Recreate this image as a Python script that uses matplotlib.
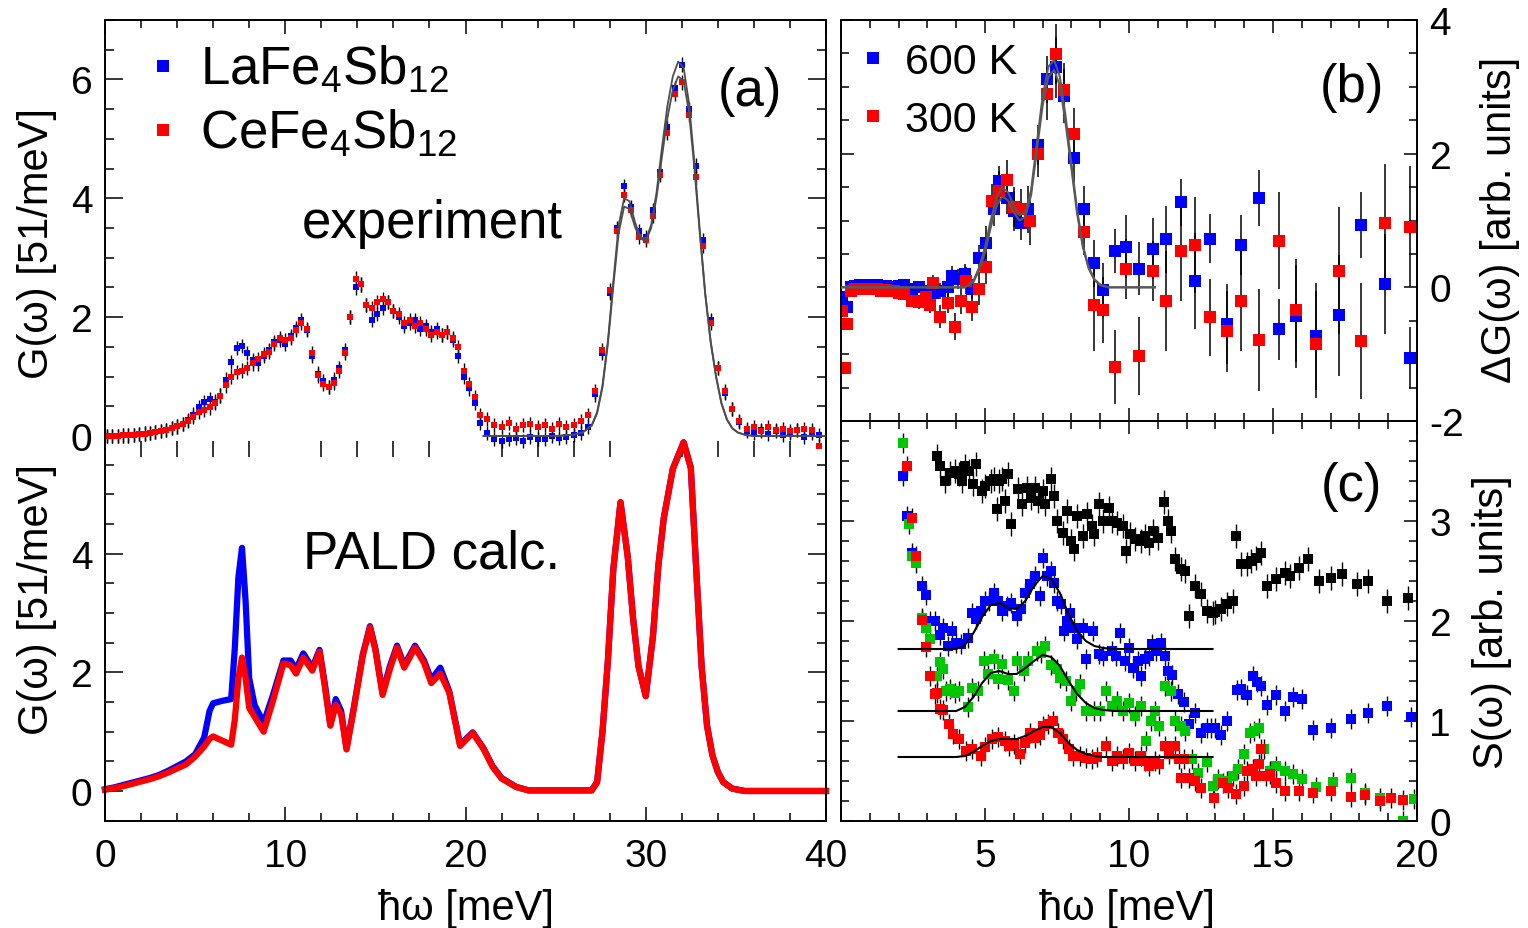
import numpy as np
import matplotlib
matplotlib.use('Agg')
import matplotlib.pyplot as plt
from matplotlib.lines import Line2D
from matplotlib.ticker import MultipleLocator

plt.rcParams['font.family'] = ['Liberation Sans', 'DejaVu Sans']
plt.rcParams['mathtext.fontset'] = 'custom'
plt.rcParams['mathtext.rm'] = 'Liberation Sans'
plt.rcParams['mathtext.default'] = 'regular'
plt.rcParams['axes.unicode_minus'] = False

# ---------------- panel (a): experiment ----------------
ea_lo = np.linspace(0.1, 20.8, 70)
ea_hi = np.linspace(21.2, 39.6, 47)

la_lo = [0.0, 0.0, 0.0, 0.01, 0.01, 0.02, 0.03, 0.04, 0.05, 0.07,
         0.08, 0.10, 0.13, 0.16, 0.20, 0.27, 0.36, 0.48, 0.57, 0.62,
         0.58, 0.68, 0.95, 1.25, 1.48, 1.52, 1.40, 1.28, 1.22, 1.35,
         1.45, 1.58, 1.62, 1.55, 1.68, 1.82, 1.95, 1.78, 1.35, 1.05,
         0.92, 0.82, 0.95, 1.15, 1.45, 2.00, 2.50, 2.55, 2.20, 1.95,
         2.05, 2.15, 2.25, 2.10, 2.00, 1.85, 1.90, 1.95, 1.80, 1.85,
         1.75, 1.80, 1.70, 1.75, 1.62, 1.35, 1.00, 0.80, 0.55, 0.22]
ce_lo = [0.0, 0.0, 0.0, 0.01, 0.01, 0.02, 0.03, 0.04, 0.05, 0.07,
         0.08, 0.10, 0.13, 0.16, 0.20, 0.25, 0.32, 0.40, 0.44, 0.48,
         0.55, 0.68, 0.85, 1.00, 1.08, 1.10, 1.15, 1.22, 1.30, 1.38,
         1.42, 1.55, 1.65, 1.62, 1.65, 1.78, 1.90, 1.80, 1.40, 1.02,
         0.88, 0.82, 0.90, 1.10, 1.40, 2.00, 2.65, 2.55, 2.20, 2.15,
         2.25, 2.30, 2.25, 2.10, 2.05, 1.90, 1.95, 1.85, 1.90, 1.80,
         1.70, 1.75, 1.70, 1.75, 1.65, 1.50, 1.10, 0.88, 0.65, 0.35]
la_hi = [0.05, -0.05, -0.08, -0.05, -0.03, -0.08, -0.02, -0.05, -0.05, 0.0,
         -0.03, -0.02, 0.02, 0.05, 0.15, 0.70, 1.40, 2.40, 3.50, 4.20,
         3.85, 3.45, 3.35, 3.80, 4.45, 5.20, 5.85, 6.25, 5.50, 4.55,
         3.30, 1.95, 1.15, 0.72, 0.45, 0.24, 0.08, 0.05, 0.10, 0.03,
         0.08, 0.02, 0.05, 0.10, -0.02, 0.05, 0.02]
ce_hi = [0.28, 0.18, 0.15, 0.22, 0.12, 0.18, 0.20, 0.15, 0.18, 0.12,
         0.20, 0.15, 0.18, 0.25, 0.35, 0.75, 1.45, 2.45, 3.45, 4.05,
         3.80, 3.35, 3.30, 3.70, 4.40, 5.10, 5.75, 5.95, 5.40, 4.35,
         3.20, 1.90, 1.15, 0.75, 0.45, 0.25, 0.12, 0.15, 0.08, 0.15,
         0.10, 0.12, 0.08, 0.10, 0.12, 0.10, -0.17]
err_a = 0.12

fit_a_E = [21, 22, 23, 24, 25, 26, 26.5, 27, 27.3, 27.6, 27.9, 28.2, 28.5, 28.8,
           29.1, 29.4, 29.7, 30.0, 30.3, 30.6, 30.9, 31.2, 31.5, 31.8, 32.1, 32.4,
           32.7, 33.0, 33.3, 33.6, 33.9, 34.2, 34.5, 34.8, 35.1, 35.5, 36, 37, 38, 39, 40]
fit_a_1 = [0, 0, 0, 0, 0, 0.02, 0.06, 0.18, 0.40, 0.85, 1.60, 2.60, 3.55, 4.00,
           3.95, 3.60, 3.35, 3.30, 3.55, 4.10, 4.85, 5.55, 6.05, 6.30, 6.20, 5.60,
           4.60, 3.45, 2.40, 1.60, 1.00, 0.55, 0.28, 0.13, 0.06, 0.02, 0, 0, 0, 0, 0]
fit_a_2 = [0, 0, 0, 0, 0, 0.02, 0.06, 0.17, 0.38, 0.82, 1.55, 2.52, 3.42, 3.86,
           3.82, 3.52, 3.32, 3.28, 3.50, 4.02, 4.70, 5.35, 5.82, 6.05, 5.98, 5.45,
           4.50, 3.40, 2.38, 1.58, 1.00, 0.55, 0.28, 0.13, 0.06, 0.02, 0, 0, 0, 0, 0]

# ---------------- panel (a): PALD calculation ----------------
calc_E = [0, 0.5, 1, 1.5, 2, 2.5, 3, 3.5, 4, 4.5, 5, 5.5, 5.8, 6.0,
          6.5, 7.0, 7.2, 7.4, 7.6, 7.8, 8.0, 8.3, 8.8, 9.3,
          9.9, 10.3, 10.6, 11.0, 11.5, 11.9, 12.2, 12.5, 12.8, 13.1,
          13.4, 13.8, 14.3, 14.7, 15.0, 15.4, 15.8, 16.2, 16.6, 17.2,
          17.7, 18.1, 18.6, 19.1, 19.7, 20.4, 21.0, 21.5, 22.0, 22.8,
          23.5, 27.0, 27.3, 27.6, 27.9, 28.2, 28.6, 29.0, 29.3, 29.6,
          30.0, 30.4, 30.7, 31.0, 31.5, 32.1, 32.5, 32.8, 33.1, 33.4,
          33.7, 34.0, 34.3, 34.8, 35.5, 40.0]
calc_la = [0.03, 0.06, 0.10, 0.14, 0.18, 0.22, 0.27, 0.34, 0.42, 0.50, 0.62, 0.90, 1.35, 1.48,
           1.52, 1.55, 2.40, 3.60, 4.10, 3.20, 1.90, 1.45, 1.15, 1.60,
           2.20, 2.20, 2.05, 2.32, 2.08, 2.38, 1.80, 1.12, 1.55, 1.35,
           0.72, 1.40, 2.30, 2.78, 2.40, 1.65, 2.10, 2.45, 2.12, 2.45,
           2.20, 1.88, 2.08, 1.68, 0.78, 0.99, 0.72, 0.42, 0.22, 0.07,
           0.01, 0.01, 0.15, 1.00, 2.20, 3.74, 4.87, 3.95, 2.90, 2.10,
           1.60, 2.61, 3.80, 4.60, 5.43, 5.88, 5.45, 3.74, 2.10, 1.10,
           0.60, 0.32, 0.15, 0.04, 0.0, 0.0]
calc_ce = [0.02, 0.05, 0.08, 0.12, 0.16, 0.20, 0.25, 0.31, 0.38, 0.45, 0.58, 0.75, 0.88, 0.92,
           0.85, 0.78, 1.20, 1.90, 2.25, 1.90, 1.40, 1.25, 1.00, 1.50,
           2.15, 2.12, 1.98, 2.25, 2.03, 2.35, 1.75, 1.10, 1.45, 1.30,
           0.70, 1.38, 2.28, 2.76, 2.38, 1.62, 2.05, 2.42, 2.08, 2.42,
           2.16, 1.82, 1.98, 1.66, 0.76, 0.98, 0.71, 0.41, 0.21, 0.07,
           0.01, 0.01, 0.15, 1.00, 2.20, 3.74, 4.87, 3.95, 2.90, 2.10,
           1.60, 2.61, 3.80, 4.60, 5.43, 5.88, 5.45, 3.74, 2.10, 1.10,
           0.60, 0.32, 0.15, 0.04, 0.0, 0.0]

# ---------------- panel (b): E, dG, err ----------------
b600 = np.array([
    [0.03, -0.15, 0.06], [0.12, -0.55, 0.06], [0.22, -0.3, 0.06], [0.35, 0.0, 0.06],
    [0.5, 0.02, 0.06], [0.65, 0.03, 0.06], [0.8, 0.02, 0.06], [0.95, 0.03, 0.06],
    [1.1, 0.02, 0.06], [1.25, 0.03, 0.06], [1.4, 0.02, 0.06], [1.55, 0.02, 0.06],
    [1.7, 0.01, 0.06], [1.85, 0.0, 0.06], [2.0, 0.02, 0.06], [2.2, 0.03, 0.06],
    [2.45, -0.02, 0.06], [2.7, 0.0, 0.08], [2.95, -0.05, 0.08], [3.2, -0.08, 0.12],
    [3.45, -0.05, 0.12], [3.7, 0.0, 0.15], [3.85, 0.17, 0.15], [4.05, 0.12, 0.15],
    [4.3, 0.2, 0.15], [4.55, -0.02, 0.15], [4.8, 0.44, 0.2], [5.05, 0.67, 0.25],
    [5.3, 1.17, 0.25], [5.5, 1.59, 0.22], [5.75, 1.34, 0.25], [6.0, 1.14, 0.3],
    [6.25, 0.96, 0.25], [6.5, 1.17, 0.35], [6.85, 2.13, 0.3], [7.15, 3.11, 0.35],
    [7.45, 3.29, 0.45], [7.75, 2.86, 0.4], [8.1, 1.93, 0.35], [8.45, 1.17, 0.35],
    [8.8, 0.36, 0.35], [9.1, -0.04, 0.4], [9.5, 0.54, 0.33], [9.9, 0.61, 0.47],
    [10.35, 0.28, 0.4], [10.85, 0.58, 0.45], [11.3, 0.72, 0.5], [11.8, 1.27, 0.35],
    [12.3, 0.09, 0.72], [12.8, 0.73, 0.36], [13.4, -0.55, 0.6], [13.9, 0.63, 0.45],
    [14.5, 1.34, 0.42], [15.2, -0.63, 0.45], [15.8, -0.43, 0.77], [16.5, -0.73, 0.8],
    [17.3, -0.42, 0.9], [18.05, 0.93, 0.49], [18.9, 0.05, 0.75], [19.75, -1.05, 0.45]])
b300 = np.array([
    [0.05, -0.35, 0.06], [0.15, -1.2, 0.08], [0.2, -0.55, 0.06], [0.35, -0.05, 0.05],
    [0.5, -0.03, 0.05], [0.65, -0.02, 0.05], [0.8, -0.02, 0.05], [0.95, -0.03, 0.05],
    [1.1, -0.02, 0.05], [1.25, -0.03, 0.05], [1.4, -0.05, 0.05], [1.55, -0.04, 0.05],
    [1.7, -0.05, 0.05], [1.85, -0.06, 0.06], [2.0, -0.08, 0.06], [2.2, -0.1, 0.06],
    [2.45, -0.2, 0.08], [2.7, -0.22, 0.1], [2.95, -0.15, 0.1], [3.1, -0.27, 0.12],
    [3.2, 0.07, 0.12], [3.45, -0.44, 0.17], [3.7, -0.23, 0.15], [3.95, -0.59, 0.2],
    [4.15, -0.2, 0.2], [4.35, 0.1, 0.2], [4.55, -0.3, 0.2], [4.8, -0.02, 0.25],
    [5.05, 0.3, 0.25], [5.25, 1.29, 0.25], [5.5, 1.44, 0.3], [5.75, 1.6, 0.3],
    [6.0, 1.2, 0.3], [6.25, 1.17, 0.3], [6.55, 0.99, 0.35], [6.85, 2.0, 0.35],
    [7.15, 2.9, 0.4], [7.45, 3.49, 0.45], [7.75, 2.96, 0.4], [8.1, 2.29, 0.4],
    [8.45, 0.83, 0.35], [8.8, -0.26, 0.7], [9.1, -0.34, 0.5], [9.5, -1.19, 0.55],
    [9.9, 0.28, 0.45], [10.35, -1.03, 0.58], [10.85, 0.25, 0.45], [11.3, -0.2, 0.75],
    [11.8, 0.55, 0.75], [12.3, 0.63, 0.72], [12.8, -0.45, 0.57], [13.4, -0.66, 0.6],
    [13.9, -0.2, 0.75], [14.5, -0.79, 0.76], [15.2, 0.7, 0.72], [15.8, -0.34, 0.77],
    [16.5, -0.85, 0.8], [17.3, 0.25, 0.95], [18.05, -0.8, 0.87], [18.9, 0.96, 0.88],
    [19.75, 0.91, 0.9]])
fit_b_E = [0, 4.3, 4.6, 4.8, 5.0, 5.2, 5.4, 5.6, 5.8, 6.0, 6.2, 6.4, 6.6, 6.8,
           7.0, 7.2, 7.4, 7.6, 7.8, 8.0, 8.2, 8.4, 8.6, 8.8, 9.0, 9.3, 10.9]
fit_b_1 = [0, 0, 0.1, 0.3, 0.6, 1.0, 1.35, 1.5, 1.42, 1.22, 1.08, 1.12, 1.45, 2.15,
           2.85, 3.3, 3.4, 3.15, 2.55, 1.85, 1.15, 0.62, 0.3, 0.12, 0.04, 0.0, 0.0]
fit_b_2 = [0, 0, 0.08, 0.26, 0.52, 0.9, 1.22, 1.36, 1.3, 1.12, 1.0, 1.05, 1.38, 2.05,
           2.72, 3.15, 3.25, 3.02, 2.45, 1.78, 1.1, 0.6, 0.28, 0.11, 0.03, 0.0, 0.0]

# ---------------- panel (c): E, S ----------------
c_black = np.array([
    [3.33, 3.65], [3.45, 3.55], [3.6, 3.4], [3.8, 3.48], [3.95, 3.5], [4.1, 3.47],
    [4.2, 3.4], [4.3, 3.55], [4.45, 3.5], [4.6, 3.37], [4.7, 3.57], [4.9, 3.3],
    [5.0, 3.35], [5.2, 3.4], [5.3, 3.42], [5.4, 3.12], [5.5, 3.4], [5.6, 3.42],
    [5.7, 3.2], [5.8, 3.47], [5.9, 2.97], [6.15, 3.32], [6.3, 3.17], [6.45, 3.33],
    [6.6, 3.23], [6.75, 3.33], [6.85, 3.2], [7.0, 3.3], [7.1, 3.17], [7.3, 3.42],
    [7.4, 3.25], [7.5, 3.0], [7.7, 2.88], [7.85, 3.1], [8.0, 2.8], [8.1, 2.72],
    [8.2, 3.05], [8.4, 2.85], [8.55, 3.07], [8.7, 2.95], [8.8, 2.87], [8.95, 3.17],
    [9.1, 3.0], [9.3, 3.13], [9.4, 3.0], [9.6, 2.98], [9.8, 2.95], [9.9, 2.7],
    [10.05, 2.87], [10.2, 2.82], [10.4, 2.8], [10.55, 2.85], [10.7, 2.78], [10.85, 2.9],
    [11.0, 2.83], [11.2, 3.19], [11.35, 3.0], [11.45, 2.9], [11.6, 2.62], [11.8, 2.52],
    [11.95, 2.5], [12.1, 2.05], [12.3, 2.35], [12.5, 2.27], [12.7, 2.1], [12.9, 2.08],
    [13.0, 2.09], [13.2, 2.12], [13.4, 2.17], [13.6, 2.2], [13.7, 2.85], [13.9, 2.57],
    [14.1, 2.57], [14.25, 2.6], [14.4, 2.63], [14.6, 2.68], [14.8, 2.35], [15.1, 2.42],
    [15.4, 2.48], [15.6, 2.45], [15.9, 2.53], [16.2, 2.62], [16.6, 2.4], [17.0, 2.43],
    [17.4, 2.47], [17.9, 2.37], [18.3, 2.4], [18.95, 2.2], [19.7, 2.23]])
c_blue = np.array([
    [2.15, 3.45], [2.3, 3.05], [2.45, 2.68], [2.8, 2.35], [2.95, 2.26], [3.1, 2.0],
    [3.25, 2.0], [3.45, 1.86], [3.55, 1.93], [3.7, 1.75], [3.85, 1.9], [4.0, 1.78],
    [4.15, 1.77], [4.4, 1.83], [4.55, 2.08], [4.7, 2.02], [4.85, 2.1], [5.0, 2.2],
    [5.15, 2.2], [5.3, 2.28], [5.45, 2.2], [5.6, 2.1], [5.75, 2.15], [5.9, 2.18],
    [6.1, 2.05], [6.25, 2.12], [6.4, 2.28], [6.55, 2.37], [6.75, 2.45], [6.9, 2.25],
    [7.0, 2.63], [7.15, 2.45], [7.3, 2.5], [7.4, 2.38], [7.5, 2.2], [7.65, 2.17],
    [7.75, 1.9], [7.85, 2.0], [7.95, 2.08], [8.1, 1.93], [8.2, 1.82], [8.4, 1.93],
    [8.5, 1.62], [8.75, 1.9], [8.95, 1.67], [9.1, 1.65], [9.4, 1.7], [9.55, 1.65],
    [9.7, 1.88], [9.85, 1.6], [10.0, 1.73], [10.15, 1.53], [10.3, 1.6], [10.4, 1.45],
    [10.55, 1.62], [10.7, 1.65], [10.8, 1.77], [10.95, 1.7], [11.1, 1.78], [11.25, 1.65],
    [11.35, 1.5], [11.5, 1.46], [11.7, 1.27], [11.9, 1.19], [12.1, 0.97], [12.3, 1.08],
    [12.5, 0.88], [12.7, 0.93], [12.85, 0.93], [13.0, 0.93], [13.2, 0.86], [13.4, 1.0],
    [13.75, 1.31], [13.9, 1.32], [14.1, 1.26], [14.3, 1.45], [14.45, 1.39], [14.6, 1.35],
    [14.8, 1.16], [15.1, 1.26], [15.4, 1.1], [15.7, 1.24], [16.0, 1.22], [16.4, 0.91],
    [17.0, 0.93], [17.7, 1.02], [18.3, 1.08], [18.95, 1.15], [19.8, 1.04]])
c_green = np.array([
    [2.15, 3.78], [2.35, 2.97], [2.45, 2.65], [2.6, 2.58], [2.8, 2.03], [2.95, 1.93],
    [3.1, 1.82], [3.35, 1.45], [3.45, 1.59], [3.55, 1.52], [3.65, 1.3], [3.8, 1.32],
    [3.95, 1.28], [4.1, 1.3], [4.4, 1.14], [4.55, 1.33], [4.75, 1.3], [4.95, 1.6],
    [5.1, 1.47], [5.3, 1.62], [5.45, 1.42], [5.6, 1.57], [5.8, 1.41], [6.0, 1.3],
    [6.1, 1.6], [6.35, 1.5], [6.5, 1.6], [6.8, 1.7], [6.95, 1.68], [7.1, 1.75],
    [7.3, 1.56], [7.5, 1.52], [7.6, 1.43], [7.8, 1.4], [8.0, 1.2], [8.15, 1.3],
    [8.3, 1.37], [8.5, 1.1], [8.8, 1.1], [9.0, 1.1], [9.2, 1.3], [9.4, 1.15],
    [9.6, 1.2], [9.8, 1.1], [10.0, 1.18], [10.2, 1.05], [10.4, 1.15], [10.6, 0.8],
    [10.75, 1.0], [10.9, 1.1], [11.05, 0.95], [11.25, 1.35], [11.45, 1.3], [11.6, 1.0],
    [11.8, 0.95], [11.95, 0.9], [12.2, 0.62], [12.4, 0.48], [12.7, 0.59], [12.9, 0.35],
    [13.1, 0.42], [13.4, 0.4], [13.6, 0.45], [13.8, 0.52], [14.0, 0.67], [14.2, 0.88],
    [14.35, 0.9], [14.5, 0.93], [14.7, 0.72], [14.9, 0.5], [15.1, 0.55], [15.4, 0.5],
    [15.7, 0.47], [16.0, 0.42], [16.5, 0.34], [17.1, 0.39], [17.7, 0.43], [18.2, 0.28],
    [18.7, 0.23], [19.5, 0.0], [19.9, 0.22]])
c_red = np.array([
    [2.3, 3.55], [2.45, 3.03], [2.6, 2.65], [2.8, 2.01], [2.95, 1.74], [3.1, 1.45],
    [3.25, 1.27], [3.35, 1.28], [3.45, 1.12], [3.55, 1.11], [3.75, 0.97], [3.9, 0.87],
    [4.1, 0.82], [4.35, 0.7], [4.55, 0.72], [4.85, 0.65], [5.0, 0.74], [5.25, 0.82],
    [5.45, 0.84], [5.7, 0.8], [5.85, 0.75], [6.0, 0.77], [6.2, 0.67], [6.4, 0.78],
    [6.55, 0.88], [6.75, 0.83], [6.9, 0.86], [7.0, 0.95], [7.2, 0.97], [7.35, 1.0],
    [7.55, 0.88], [7.7, 0.82], [7.9, 0.72], [8.05, 0.65], [8.3, 0.65], [8.5, 0.63],
    [8.7, 0.62], [8.9, 0.64], [9.2, 0.75], [9.4, 0.6], [9.6, 0.65], [9.8, 0.62],
    [10.0, 0.68], [10.2, 0.6], [10.4, 0.65], [10.55, 0.6], [10.7, 0.55], [10.9, 0.6],
    [11.05, 0.57], [11.25, 0.75], [11.4, 0.67], [11.6, 0.75], [11.75, 0.62], [11.8, 0.43],
    [11.9, 0.62], [12.1, 0.43], [12.3, 0.4], [12.5, 0.33], [12.95, 0.23], [13.25, 0.38],
    [13.45, 0.33], [13.7, 0.27], [14.0, 0.35], [14.1, 0.5], [14.3, 0.52], [14.4, 0.45],
    [14.5, 0.57], [14.6, 0.72], [14.75, 0.45], [14.9, 0.47], [15.1, 0.38], [15.4, 0.3],
    [15.9, 0.3], [16.4, 0.28], [17.0, 0.3], [17.7, 0.24], [18.2, 0.26], [18.7, 0.2],
    [19.1, 0.23], [19.5, 0.21]])
err_c = 0.1
err_c_black = 0.12

fit_c_E = [2.0, 4.0, 4.3, 4.6, 4.9, 5.2, 5.5, 5.8, 6.1, 6.4, 6.7,
           7.0, 7.3, 7.6, 7.9, 8.2, 8.5, 8.8, 9.1, 9.5, 12.9]
fit_c_blue = [1.72, 1.72, 1.76, 1.88, 2.04, 2.16, 2.18, 2.13, 2.12, 2.2, 2.35,
              2.45, 2.42, 2.28, 2.07, 1.9, 1.8, 1.75, 1.73, 1.72, 1.72]
fit_c_green = [1.10, 1.10, 1.14, 1.24, 1.38, 1.48, 1.5, 1.47, 1.47, 1.53, 1.6,
               1.66, 1.64, 1.55, 1.4, 1.27, 1.18, 1.13, 1.11, 1.10, 1.10]
fit_c_red = [0.64, 0.64, 0.65, 0.69, 0.75, 0.8, 0.82, 0.82, 0.82, 0.85, 0.9,
             0.94, 0.94, 0.88, 0.78, 0.71, 0.67, 0.65, 0.64, 0.64, 0.64]

BLUE, RED, GREEN = '#0000ff', '#ff0000', '#00c800'

# ---------------- layout ----------------
W, H = 1528, 929
fig = plt.figure(figsize=(W / 100, H / 100), dpi=100)


def box(x0, y0, x1, y1):
    return [x0 / W, 1 - y1 / H, (x1 - x0) / W, (y1 - y0) / H]


axA = fig.add_axes(box(105, 21, 826, 450))
axP = fig.add_axes(box(105, 450, 826, 822))
axB = fig.add_axes(box(841, 21, 1417, 422))
axC = fig.add_axes(box(841, 422, 1417, 822))

for ax in (axA, axP, axB, axC):
    for s in ax.spines.values():
        s.set_linewidth(1.4)
    ax.tick_params(which='both', direction='in', width=1.1,
                   top=True, bottom=True, left=True, right=True, labelsize=28)

# left column
for ax in (axA, axP):
    ax.set_xlim(0, 40)
    ax.xaxis.set_major_locator(MultipleLocator(10))
    ax.xaxis.set_minor_locator(MultipleLocator(2))
    ax.yaxis.set_major_locator(MultipleLocator(2))
    ax.yaxis.set_minor_locator(MultipleLocator(0.5))
    ax.tick_params(axis='y', which='major', length=13, pad=9)
    ax.tick_params(axis='y', which='minor', length=6.5)
    ax.tick_params(axis='x', which='major', length=10, pad=12)
    ax.tick_params(axis='x', which='minor', length=5.5)
    ax.set_ylabel('G(ω) [51/meV]', fontsize=30, va='center')

axA.set_ylim(-0.219, 7.0)
axP.set_ylim(-0.506, 5.767)
axA.spines['bottom'].set_visible(False)
axP.spines['top'].set_visible(False)
axA.tick_params(axis='x', bottom=False, labelbottom=False)
axP.tick_params(axis='x', top=False)
axA.yaxis.set_label_coords(-0.094, 0.4825)
axP.yaxis.set_label_coords(-0.094, 0.597)
axP.set_xlabel('ħω [meV]', fontsize=30)
axP.xaxis.set_label_coords(0.5, -0.18)

axA.errorbar(np.concatenate([ea_lo, ea_hi]), la_lo + la_hi, yerr=err_a, fmt='s',
             color=BLUE, ms=5, mew=0, ecolor='black', elinewidth=1.0, capsize=0)
axA.errorbar(np.concatenate([ea_lo, ea_hi]), ce_lo + ce_hi, yerr=err_a, fmt='s',
             color=RED, ms=5, mew=0, ecolor='black', elinewidth=1.0, capsize=0)
axA.plot(fit_a_E, fit_a_1, color='0.3', lw=1.3, zorder=4)
axA.plot(fit_a_E, fit_a_2, color='0.3', lw=1.3, zorder=4)

axP.plot(calc_E, calc_la, color=BLUE, lw=4.5, clip_on=False)
axP.plot(calc_E, calc_ce, color=RED, lw=4.5, clip_on=False)

leg_a = [Line2D([], [], ls='none', marker='s', ms=8, mew=0, color=BLUE),
         Line2D([], [], ls='none', marker='s', ms=8, mew=0, color=RED)]
axA.legend(leg_a, ['LaFe$_4$Sb$_{12}$', 'CeFe$_4$Sb$_{12}$'], loc='upper left',
           bbox_to_anchor=(0.062, 0.945), frameon=False, fontsize=38,
           handlelength=0.5, handletextpad=0.45, labelspacing=0.24,
           borderpad=0, borderaxespad=0)
axA.text(0.8946, 0.8345, '(a)', transform=axA.transAxes, fontsize=38, ha='center', va='center')
axA.text(0.4535, 0.527, 'experiment', transform=axA.transAxes, fontsize=38, ha='center', va='center')
axP.text(0.4535, 0.718, 'PALD calc.', transform=axP.transAxes, fontsize=38, ha='center', va='center')

# right column
for ax in (axB, axC):
    ax.set_xlim(0, 20)
    ax.xaxis.set_major_locator(MultipleLocator(5))
    ax.xaxis.set_minor_locator(MultipleLocator(1))
    ax.tick_params(which='major', length=9.5)
    ax.tick_params(which='minor', length=5.5)
    ax.tick_params(axis='y', labelleft=False, labelright=True, pad=9)
    ax.yaxis.set_label_position('right')

axB.set_ylim(-2, 4)
axB.yaxis.set_major_locator(MultipleLocator(2))
axB.yaxis.set_minor_locator(MultipleLocator(0.5))
axB.tick_params(axis='x', labelbottom=False)
axB.set_ylabel('ΔG(ω) [arb. units]', fontsize=30, va='center')
axB.yaxis.set_label_coords(1.144, 0.504)

axC.set_ylim(0, 4)
axC.set_yticks([0, 1, 2, 3])
axC.yaxis.set_minor_locator(MultipleLocator(0.2))
axC.set_xticks([0, 5, 10, 15, 20])
axC.set_xticklabels(['', '5', '10', '15', '20'])
axC.tick_params(axis='x', pad=12)
axC.set_ylabel('S(ω) [arb. units]', fontsize=30, va='center')
axC.yaxis.set_label_coords(1.13, 0.5)
axC.set_xlabel('ħω [meV]', fontsize=30)
axC.xaxis.set_label_coords(0.497, -0.168)

axB.plot(fit_b_E, fit_b_1, color='0.35', lw=1.5, zorder=4)
axB.plot(fit_b_E, fit_b_2, color='0.35', lw=1.5, zorder=4)
axB.errorbar(b600[:, 0], b600[:, 1], yerr=b600[:, 2], fmt='s', color=BLUE, ms=8,
             mew=0, ecolor='black', elinewidth=1.1, capsize=0)
axB.errorbar(b300[:, 0], b300[:, 1], yerr=b300[:, 2], fmt='s', color=RED, ms=8,
             mew=0, ecolor='black', elinewidth=1.1, capsize=0)
leg_b = [Line2D([], [], ls='none', marker='s', ms=8, mew=0, color=BLUE),
         Line2D([], [], ls='none', marker='s', ms=8, mew=0, color=RED)]
axB.legend(leg_b, ['600 K', '300 K'], loc='upper left', bbox_to_anchor=(0.0365, 0.945),
           frameon=False, fontsize=31, handlelength=0.5, handletextpad=0.49,
           labelspacing=0.42, borderpad=0, borderaxespad=0)
axB.text(0.887, 0.833, '(b)', transform=axB.transAxes, fontsize=38, ha='center', va='center')

for data, col, e in ((c_black, 'black', err_c_black), (c_blue, BLUE, err_c),
                     (c_green, GREEN, err_c), (c_red, RED, err_c)):
    axC.errorbar(data[:, 0], data[:, 1], yerr=e, fmt='s', color=col, ms=6.5,
                 mew=0, ecolor='black', elinewidth=1.0, capsize=0)
for fit in (fit_c_blue, fit_c_green, fit_c_red):
    axC.plot(fit_c_E, fit, color='black', lw=1.5, zorder=4)
axC.text(0.887, 0.8375, '(c)', transform=axC.transAxes, fontsize=38, ha='center', va='center')

fig.savefig('out.png', dpi=100)
